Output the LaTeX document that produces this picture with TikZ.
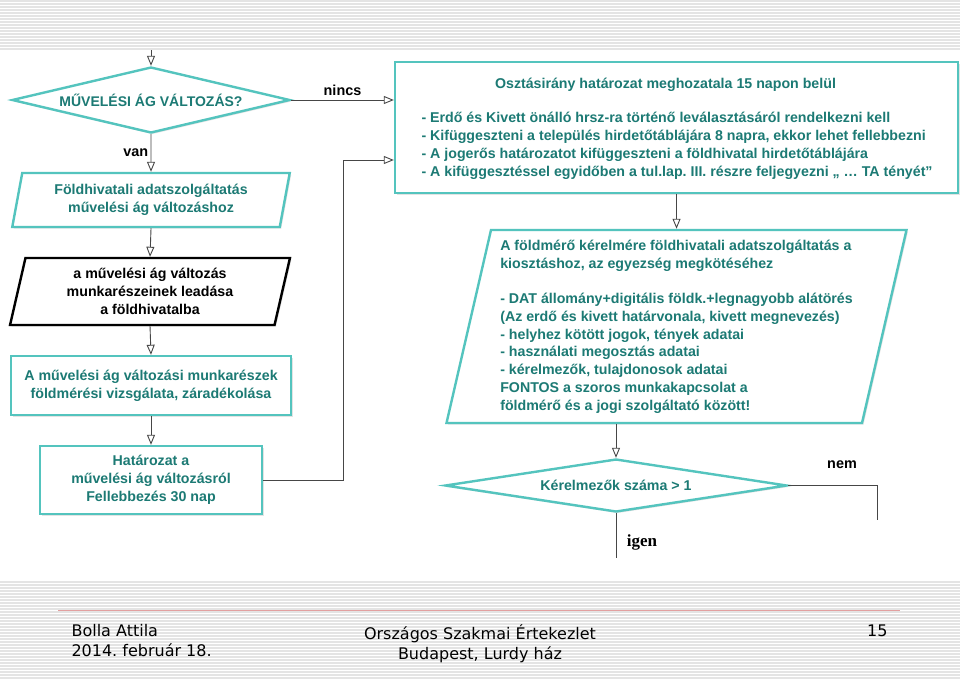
\documentclass[tikz,border=0pt]{standalone}
\usepackage{fontspec}
\setmainfont{Liberation Sans}
\newfontfamily\footfont{DejaVu Sans}
\newfontfamily\igenfont{Liberation Serif}
\usetikzlibrary{positioning,shapes.geometric,arrows.meta,shadows,calc}
\definecolor{tealborder}{RGB}{84,196,190}
\definecolor{tealtext}{RGB}{28,122,116}
\definecolor{linegray}{RGB}{70,70,70}
\definecolor{stripe}{RGB}{228,228,228}
\definecolor{footline}{RGB}{226,160,160}
\tikzset{boxtext/.style={font=\fontsize{14.2}{17.8}\selectfont\bfseries,text=tealtext}}
\tikzset{tealbox/.style={draw=tealborder,line width=2.4pt,fill=white,boxtext,
	drop shadow={opacity=0.22,shadow xshift=1.5pt,shadow yshift=-1.5pt},inner sep=0pt}}
\tikzset{dontes/.style={tealbox,diamond,aspect=4}}
\tikzset{ferde/.style={tealbox,trapezium,trapezium stretches=true}}
\tikzset{arr/.style={-{Triangle[open,length=10pt,width=8pt]},linegray,line width=0.9pt}}
\tikzset{conn/.style={linegray,line width=0.9pt}}
\tikzset{lbl/.style={font=\fontsize{14.4}{16}\selectfont\bfseries,text=black}}
\tikzset{foot/.style={font=\footfont\fontsize{16}{20}\selectfont}}

\begin{document}
\frenchspacing
\begin{tikzpicture}[x=1pt,y=-1pt]

	%% Background stripes
	\useasboundingbox (0,0) rectangle (960,678);
	\fill[white] (0,0) rectangle (960,678);
	\foreach \y in {1,4,...,49} \draw[stripe,line width=1.2pt] (0,\y) -- (960,\y);
	\foreach \y in {582,585,...,678} \draw[stripe,line width=1.2pt] (0,\y) -- (960,\y);

	%% Left column
	\node[dontes,minimum width=278pt,minimum height=66pt,font=\fontsize{14}{16}\selectfont\bfseries] (kerdes) at (151,100) {MŰVELÉSI ÁG VÁLTOZÁS?};
	\node[ferde,trapezium left angle=76.5,trapezium right angle=103.5,minimum width=278pt,minimum height=54pt,align=center] (adat) at (151,200) {Földhivatali adatszolgáltatás\\művelési ág változáshoz};
	\node[ferde,draw=black,text=black,trapezium left angle=77.4,trapezium right angle=102.6,minimum width=280pt,minimum height=67pt,align=center] (leadas) at (150,291.5) {a művelési ág változás\\munkarészeinek leadása\\a földhivatalba};
	\node[tealbox,rectangle,minimum width=280pt,minimum height=59pt,align=center] (vizsgalat) at (151,385.5) {A művelési ág változási munkarészek\\földmérési vizsgálata, záradékolása};
	\node[tealbox,rectangle,minimum width=222pt,minimum height=68pt,align=center] (hatarozat) at (151,480) {Határozat a\\művelési ág változásról\\Fellebbezés 30 nap};

	%% Right column
	\node[tealbox,rectangle,minimum width=563pt,minimum height=131pt] (osztas) at (676.5,127.5) {};
	\node[boxtext] (osztascim) at (665.5,85) {Osztásirány határozat meghozatala 15 napon belül};
	\node[boxtext,align=left,anchor=north west] (osztaslista) at (418,109) {- Erdő és Kivett önálló hrsz-ra történő leválasztásáról rendelkezni kell\\- Kifüggeszteni a település hirdetőtáblájára 8 napra, ekkor lehet fellebbezni\\- A jogerős határozatot kifüggeszteni a földhivatal hirdetőtáblájára\\- A kifüggesztéssel egyidőben a tul.lap. III. részre feljegyezni „ \dots\ TA tényét”};
	\node[ferde,trapezium left angle=76.3,trapezium right angle=103.7,minimum width=463pt,minimum height=193pt,align=left] (kerelem) at (676.5,326.5) {A földmérő kérelmére földhivatali adatszolgáltatás a\\kiosztáshoz, az egyezség megkötéséhez\\[17.6pt]- DAT állomány+digitális földk.+legnagyobb alátörés\\(Az erdő és kivett határvonala, kivett megnevezés)\\- helyhez kötött jogok, tények adatai\\- használati megosztás adatai\\- kérelmezők, tulajdonosok adatai\\FONTOS a szoros munkakapcsolat a\\földmérő és a jogi szolgáltató között!};
	\node[dontes,minimum width=342pt,minimum height=53pt,aspect=6] (szam) at (616,485.5) {Kérelmezők száma > 1};

	%% Connectors
	\coordinate (start) at (151,50);
	\coordinate (fordulo) at (343,160);
	\coordinate (nemvege) at (877,520);
	\coordinate (igenvege) at (616,558);
	\draw[arr] (start) -- (kerdes.north);
	\draw[arr] (kerdes.east) -- node[lbl,above=1pt] (nincs) {nincs} (osztas.west |- kerdes.east);
	\draw[arr] (kerdes.south) -- node[lbl,left=-1pt] (van) {van} (adat.north);
	\draw[arr] (adat.south) -- (leadas.north);
	\draw[arr] (leadas.south) -- (vizsgalat.north);
	\draw[arr] (vizsgalat.south) -- (hatarozat.north);
	\draw[conn] (hatarozat.east) -| (fordulo);
	\draw[arr] (fordulo) -- (osztas.west |- fordulo);
	\draw[arr] (osztas.south) -- (kerelem.north);
	\draw[arr] (szam.north |- kerelem.south) -- (szam.north);
	\draw[conn] (szam.east) -| (nemvege);
	\node[lbl] (nem) at (842,465) {nem};
	\draw[conn] (szam.south) -- (igenvege);
	\node[font=\igenfont\fontsize{17}{18}\selectfont\bfseries] (igen) at (642,542) {igen};

	%% Footer
	\draw[footline,line width=0.7pt] (58,610) -- (900,610);
	\node[foot,align=left,anchor=north west] (szerzo) at (68,621) {Bolla Attila\\2014. február 18.};
	\node[foot,align=center,anchor=north] (rendezveny) at (480,621) {Országos Szakmai Értekezlet\\Budapest, Lurdy ház};
	\node[foot,anchor=north east] (oldal) at (891,621) {15};

\end{tikzpicture}
\end{document}
